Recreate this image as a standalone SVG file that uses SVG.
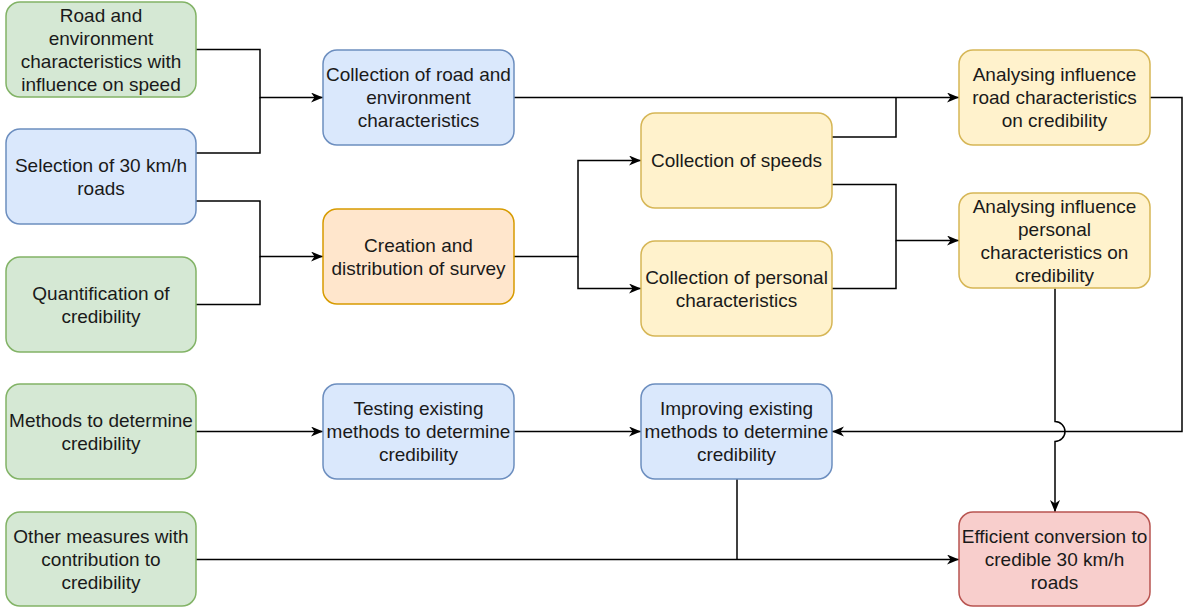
<svg xmlns="http://www.w3.org/2000/svg" width="1184" height="607" viewBox="0 0 1184 607">
<style>
.box{stroke-width:1.5}
.g{fill:#d5e8d4;stroke:#82b366}
.b{fill:#dae8fc;stroke:#6c8ebf}
.o{fill:#ffe6cc;stroke:#d79b00}
.y{fill:#fff2cc;stroke:#d6b656}
.r{fill:#f8cecc;stroke:#b85450}
text{font-family:"Liberation Sans",Arial,sans-serif;font-size:19px;fill:#1a1a1a;text-anchor:middle}
.c{fill:none;stroke:#000;stroke-width:1.5}
.a{marker-end:url(#arr)}
</style>
<defs>
<marker id="arr" markerUnits="userSpaceOnUse" markerWidth="13" markerHeight="11" refX="12" refY="5" orient="auto">
<path d="M0,0 L12,5 L0,10 L3.5,5 Z" fill="#000"/>
</marker>
</defs>
<rect width="1184" height="607" fill="#fff"/>
<g id="connectors">
<path class="c a" d="M196 49.5 H260 V97.5 H323"/>
<path class="c" d="M196 153 H260 V97.5"/>
<path class="c a" d="M196 201 H260 V256.5 H323"/>
<path class="c" d="M196 304.5 H260 V256.5"/>
<path class="c a" d="M514 97.5 H959"/>
<path class="c a" d="M514 256.5 H578 V160.5 H641"/>
<path class="c a" d="M578 256.5 V288.5 H641"/>
<path class="c" d="M832 137 H896 V97.5"/>
<path class="c a" d="M832 184.5 H896 V240.5 H959"/>
<path class="c" d="M832 288.5 H896 V240.5"/>
<path class="c a" d="M1150 97.5 H1182 V431.5 H832"/>
<path class="c a" d="M1055 288.5 V421.5 A10 10 0 0 1 1055 441.5 V512"/>
<path class="c a" d="M196 431.5 H323"/>
<path class="c a" d="M514 431.5 H641"/>
<path class="c a" d="M196 559.5 H959"/>
<path class="c" d="M737 479 V559.5"/>
</g>
<g id="n1"><rect class="box g" x="6" y="2" width="190" height="95" rx="14"/>
<text x="101" y="21.5">Road and</text><text x="101" y="44.5">environment</text><text x="101" y="67.5">characteristics with</text><text x="101" y="90.5">influence on speed</text></g>
<g id="n2"><rect class="box b" x="6" y="129" width="190" height="95" rx="14"/>
<text x="101" y="171.5">Selection of 30 km/h</text><text x="101" y="194.5">roads</text></g>
<g id="n3"><rect class="box g" x="6" y="257" width="190" height="95" rx="14"/>
<text x="101" y="299.5">Quantification of</text><text x="101" y="322.5">credibility</text></g>
<g id="n4"><rect class="box g" x="6" y="384" width="190" height="95" rx="14"/>
<text x="101" y="426.5">Methods to determine</text><text x="101" y="449.5">credibility</text></g>
<g id="n5"><rect class="box g" x="6" y="512" width="190" height="94" rx="14"/>
<text x="101" y="543">Other measures with</text><text x="101" y="566">contribution to</text><text x="101" y="589">credibility</text></g>
<g id="n6"><rect class="box b" x="323" y="50" width="191" height="95" rx="14"/>
<text x="418.5" y="81">Collection of road and</text><text x="418.5" y="104">environment</text><text x="418.5" y="127">characteristics</text></g>
<g id="n7"><rect class="box o" x="323" y="209" width="191" height="95" rx="14"/>
<text x="418.5" y="251.5">Creation and</text><text x="418.5" y="274.5">distribution of survey</text></g>
<g id="n8"><rect class="box b" x="323" y="384" width="191" height="95" rx="14"/>
<text x="418.5" y="415">Testing existing</text><text x="418.5" y="438">methods to determine</text><text x="418.5" y="461">credibility</text></g>
<g id="n9"><rect class="box y" x="641" y="113" width="191" height="95" rx="14"/>
<text x="736.5" y="167">Collection of speeds</text></g>
<g id="n10"><rect class="box y" x="641" y="241" width="191" height="95" rx="14"/>
<text x="736.5" y="283.5">Collection of personal</text><text x="736.5" y="306.5">characteristics</text></g>
<g id="n11"><rect class="box b" x="641" y="384" width="191" height="95" rx="14"/>
<text x="736.5" y="415">Improving existing</text><text x="736.5" y="438">methods to determine</text><text x="736.5" y="461">credibility</text></g>
<g id="n12"><rect class="box y" x="959" y="50" width="191" height="95" rx="14"/>
<text x="1054.5" y="81">Analysing influence</text><text x="1054.5" y="104">road characteristics</text><text x="1054.5" y="127">on credibility</text></g>
<g id="n13"><rect class="box y" x="959" y="193" width="191" height="95" rx="14"/>
<text x="1054.5" y="212.5">Analysing influence</text><text x="1054.5" y="235.5">personal</text><text x="1054.5" y="258.5">characteristics on</text><text x="1054.5" y="281.5">credibility</text></g>
<g id="n14"><rect class="box r" x="959" y="512" width="191" height="94" rx="14"/>
<text x="1054.5" y="543">Efficient conversion to</text><text x="1054.5" y="566">credible 30 km/h</text><text x="1054.5" y="589">roads</text></g>
</svg>
